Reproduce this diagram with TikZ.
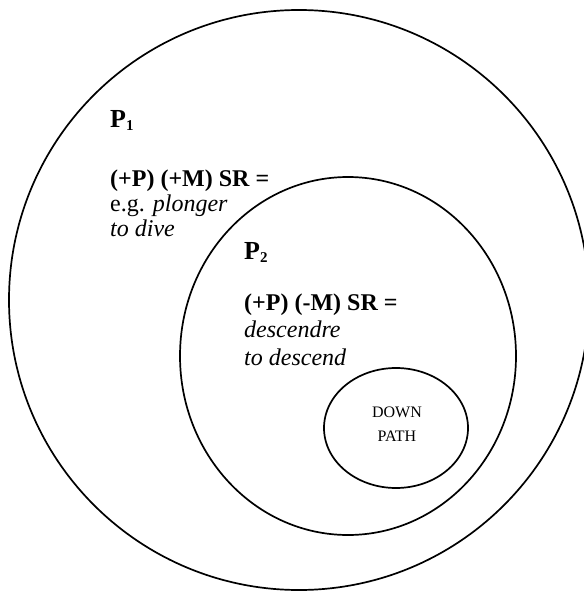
\documentclass[tikz,border=0pt]{standalone}
\usepackage{fontspec}
\setmainfont{Liberation Serif}
\usetikzlibrary{shapes.geometric}
\begin{document}
\begin{tikzpicture}[x=1pt,y=-1pt,
  ring/.style={draw=black,line width=1.7pt,ellipse,inner sep=0pt},
  lbl/.style={inner sep=0pt,anchor=base west,font=\fontsize{24}{28}\selectfont},
  plbl/.style={inner sep=0pt,anchor=base west,font=\fontsize{26}{30}\selectfont\bfseries},
  small/.style={inner sep=0pt,anchor=base,font=\fontsize{16}{19}\selectfont}]
\useasboundingbox (0,0) rectangle (583,591);
\fill[white] (0,0) rectangle (583,591);
\node[ring,minimum width=580pt,minimum height=580pt] (outer) at (299,300) {};
\node[ring,minimum width=336pt,minimum height=358pt] (middle) at (348,356) {};
\node[ring,minimum width=144pt,minimum height=120pt] (inner) at (396,428) {};
\node[plbl] (p1) at (110,128) {P\raisebox{-3pt}{\fontsize{15}{15}\selectfont 1}};
\node[lbl] (f1) at (110,186) {\textbf{(+P) (+M) SR =}};
\node[lbl] (e1) at (110,211) {e.g. \textit{plonger}};
\node[lbl] (t1) at (110,236) {\textit{to dive}};
\node[plbl] (p2) at (244,259) {P\raisebox{-3pt}{\fontsize{15}{15}\selectfont 2}};
\node[lbl] (f2) at (244,310) {\textbf{(+P) (-M) SR =}};
\node[lbl] (e2) at (244,337) {\textit{descendre}};
\node[lbl] (t2) at (244,365) {\textit{to descend}};
\node[small] (d) at (397,417) {DOWN};
\node[small] (pa) at (397,441) {PATH};
\end{tikzpicture}
\end{document}
